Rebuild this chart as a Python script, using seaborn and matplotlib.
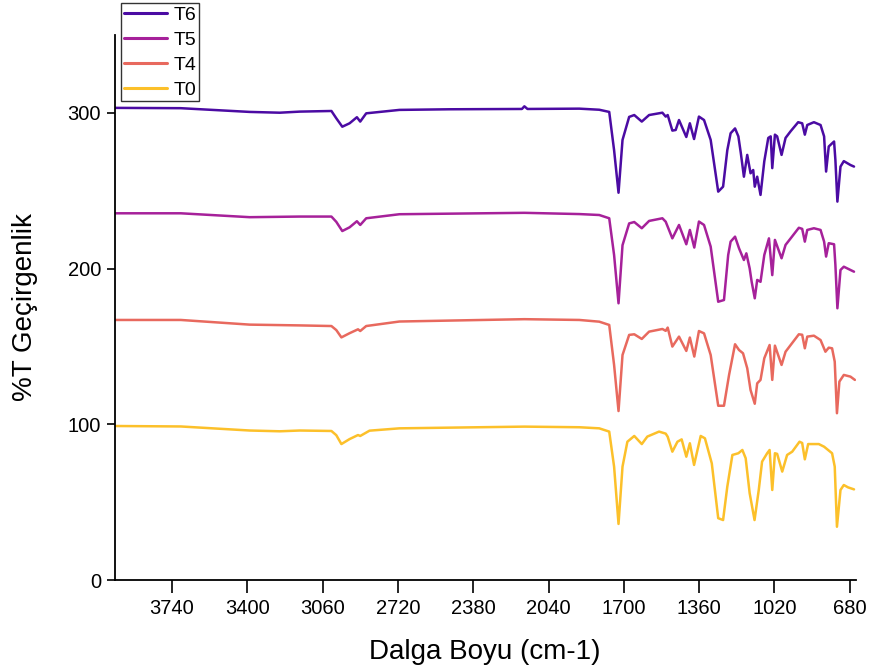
import numpy as np
import pandas as pd
import matplotlib
matplotlib.use("Agg")
import matplotlib.pyplot as plt
import seaborn as sns
from matplotlib.lines import Line2D

# ---- data ----
t6_wn = [3997, 3700, 3389, 3253, 3163, 3020, 2998, 2971, 2938, 2905, 2890, 2863, 2713, 2487, 2160, 2149, 2135,
         1901, 1811, 1766, 1744, 1724, 1706, 1676, 1653, 1619, 1586, 1526, 1511, 1502, 1481, 1466, 1451, 1418,
         1402, 1383, 1361, 1338, 1308, 1274, 1252, 1233, 1218, 1198, 1183, 1172, 1158, 1143, 1128, 1116, 1109,
         1098, 1083, 1066, 1048, 1037, 1030, 1018, 1008, 988, 970, 947, 913, 895, 883, 872, 842, 812, 796, 787,
         775, 751, 745, 736, 722, 707, 677, 661]
t6_val = [303.2, 303.0, 300.6, 300.1, 300.8, 301.2, 296.5, 291.1, 293.3, 297.2, 294.4, 299.7, 301.9, 302.3, 302.5, 304.2, 302.5,
          302.7, 302.0, 300.6, 276.0, 248.7, 282.6, 297.4, 298.6, 294.4, 298.6, 300.1, 297.6, 298.6, 288.6, 289.0, 295.4, 284.5,
          293.3, 283.2, 297.6, 295.4, 282.6, 249.4, 252.6, 276.0, 286.9, 290.0, 284.9, 274.2, 259.0, 273.0, 261.2, 263.3, 252.6,
          259.0, 247.3, 268.9, 283.9, 284.9, 264.5, 286.0, 284.9, 273.0, 283.9, 288.2, 294.0, 293.3, 286.0, 292.2, 294.0, 292.2, 284.9, 262.3,
          278.4, 281.6, 269.7, 243.0, 265.5, 269.0, 266.5, 265.5]

t5_wn = [3997, 3700, 3389, 3163, 3020, 2998, 2971, 2938, 2905, 2890, 2863, 2713, 2149, 1901, 1811, 1766, 1744, 1724,
         1706, 1676, 1653, 1619, 1586, 1526, 1511, 1481, 1451, 1418, 1402, 1382, 1361, 1338, 1308, 1274, 1248, 1229,
         1218, 1198, 1180, 1158, 1147, 1132, 1123, 1109, 1098, 1083, 1066, 1045, 1030, 1018, 988, 970, 947, 910, 895,
         883, 872, 842, 812, 796, 787, 775, 751, 745, 736, 722, 707, 677, 661]
t5_val = [235.5, 235.5, 233.0, 233.4, 233.4, 230.0, 224.1, 226.5, 230.4, 228.0, 232.3, 234.9, 235.8, 235.0, 234.4, 232.3, 208.7, 177.7,
          215.0, 229.0, 229.9, 225.9, 230.6, 232.3, 230.1, 219.4, 228.0, 215.6, 224.8, 213.5, 230.2, 228.0, 214.1, 178.7, 179.8, 208.7,
          217.3, 220.5, 213.0, 205.5, 209.8, 200.1, 191.5, 180.9, 192.7, 191.5, 208.7, 219.4, 195.8, 218.4, 206.6, 215.2, 219.4, 226.2, 225.5,
          217.3, 224.8, 225.9, 224.8, 217.3, 207.7, 216.3, 215.6, 202.3, 174.5, 199.1, 201.2, 199.1, 198.0]

t4_wn = [3997, 3700, 3389, 3163, 3020, 2998, 2975, 2938, 2900, 2890, 2863, 2713, 2149, 1901, 1811, 1766, 1744, 1724,
         1706, 1676, 1653, 1619, 1586, 1526, 1511, 1502, 1481, 1451, 1418, 1402, 1382, 1361, 1338, 1308, 1274, 1248,
         1225, 1198, 1180, 1162, 1143, 1128, 1109, 1098, 1083, 1066, 1042, 1030, 1018, 988, 970, 947, 910, 895, 883,
         872, 842, 812, 790, 775, 760, 748, 738, 727, 707, 677, 657]
t4_val = [167.0, 167.0, 164.0, 163.5, 163.1, 160.5, 155.8, 158.5, 161.0, 159.9, 163.1, 166.0, 167.5, 167.0, 165.9, 163.8, 138.1, 108.5,
          144.5, 157.4, 157.8, 154.8, 159.5, 161.2, 160.0, 162.1, 149.9, 156.3, 147.1, 155.7, 143.5, 159.9, 158.4, 144.5, 111.9, 111.9,
          131.7, 151.4, 147.7, 145.6, 136.0, 122.0, 113.2, 126.3, 128.5, 142.4, 150.9, 128.5, 150.5, 138.1, 146.6, 150.9, 157.8, 157.5, 148.8,
          156.3, 156.9, 154.1, 146.6, 149.2, 148.8, 140.2, 107.1, 127.4, 131.7, 130.6, 128.5]

t0_wn = [3997, 3700, 3389, 3253, 3163, 3020, 2998, 2975, 2938, 2900, 2890, 2848, 2713, 2149, 1901, 1811, 1766, 1744,
         1724, 1706, 1684, 1653, 1619, 1594, 1541, 1511, 1502, 1481, 1458, 1439, 1418, 1402, 1383, 1353, 1334, 1303,
         1274, 1252, 1233, 1210, 1183, 1165, 1150, 1132, 1110, 1091, 1076, 1053, 1042, 1030, 1018, 1008, 985, 963,
         940, 907, 895, 883, 868, 820, 796, 760, 748, 738, 722, 707, 688, 661]
t0_val = [98.9, 98.6, 96.0, 95.5, 96.0, 95.7, 93.0, 87.3, 90.5, 93.1, 92.5, 95.9, 97.4, 98.5, 98.1, 97.4, 95.3, 72.8,
          36.0, 72.8, 88.8, 92.5, 87.3, 92.1, 95.3, 94.0, 92.0, 82.4, 88.8, 90.3, 79.2, 87.8, 73.9, 92.5, 91.0, 74.9,
          39.7, 38.5, 59.9, 80.3, 81.4, 83.5, 78.2, 55.7, 38.5, 57.8, 76.0, 81.4, 83.5, 57.8, 81.4, 81.0, 69.6, 80.3,
          82.4, 88.8, 88.0, 77.5, 87.3, 87.3, 85.6, 81.4, 72.8, 34.2, 57.8, 61.0, 59.5, 58.2]

series_names = ["T6", "T5", "T4", "T0"]
x_ticks = [3740, 3400, 3060, 2720, 2380, 2040, 1700, 1360, 1020, 680]
y_ticks = [0, 100, 200, 300]

colors = {"T6": "#4B0BA3", "T5": "#A6219A", "T4": "#E8695E", "T0": "#FCC02A"}

frames = []
for name, wn, val in [("T6", t6_wn, t6_val), ("T5", t5_wn, t5_val),
                      ("T4", t4_wn, t4_val), ("T0", t0_wn, t0_val)]:
    frames.append(pd.DataFrame({"wn": wn, "T": val, "series": name}))
df = pd.concat(frames, ignore_index=True)

sns.set_theme(style="ticks")
plt.rcParams["font.family"] = ["Liberation Sans", "DejaVu Sans"]
for k in ["text.color", "axes.labelcolor", "xtick.color", "ytick.color", "axes.edgecolor"]:
    plt.rcParams[k] = "black"

fig = plt.figure(figsize=(8.73, 6.72), dpi=100)
ax = fig.add_axes([115 / 873, 1 - 580 / 672, (856 - 115) / 873, (580 - 35) / 672])

sns.lineplot(data=df, x="wn", y="T", hue="series", hue_order=series_names,
             palette=colors, sort=False, estimator=None, units="series",
             linewidth=1.8, ax=ax, legend=False)

ax.set_xlim(3997, 652)
ax.set_ylim(0, 350)
ax.set_xticks(x_ticks)
ax.set_xticklabels([str(t) for t in x_ticks])
ax.set_yticks(y_ticks)
ax.tick_params(axis="x", direction="out", length=9, width=1.2, labelsize=14.5, pad=5, colors="black")
ax.tick_params(axis="y", direction="out", length=6, width=1.2, labelsize=14.5, pad=4, colors="black")
for s in ["top", "right"]:
    ax.spines[s].set_visible(False)
for s in ["left", "bottom"]:
    ax.spines[s].set_linewidth(1.3)
    ax.spines[s].set_color("black")

ax.set_xlabel("Dalga Boyu (cm-1)", fontsize=20)
ax.set_ylabel("%T Geçirgenlik", fontsize=20)
ax.xaxis.set_label_coords((485 - 115) / 741, (580 - 639) / 545)
ax.yaxis.set_label_coords((38 - 115) / 741, (580 - 307) / 545)

handles = [Line2D([0], [0], color=colors[n], lw=2.2) for n in series_names]
leg = fig.legend(handles, series_names, loc="upper left",
                 bbox_to_anchor=(121 / 873, 1 - 3 / 672), frameon=True, fancybox=False,
                 fontsize=14, handlelength=2.2, handletextpad=0.35, borderpad=0.15,
                 labelspacing=0.38, borderaxespad=0)
leg.get_frame().set_edgecolor("black")
leg.get_frame().set_linewidth(1.0)

fig.savefig("out.png", dpi=100)
